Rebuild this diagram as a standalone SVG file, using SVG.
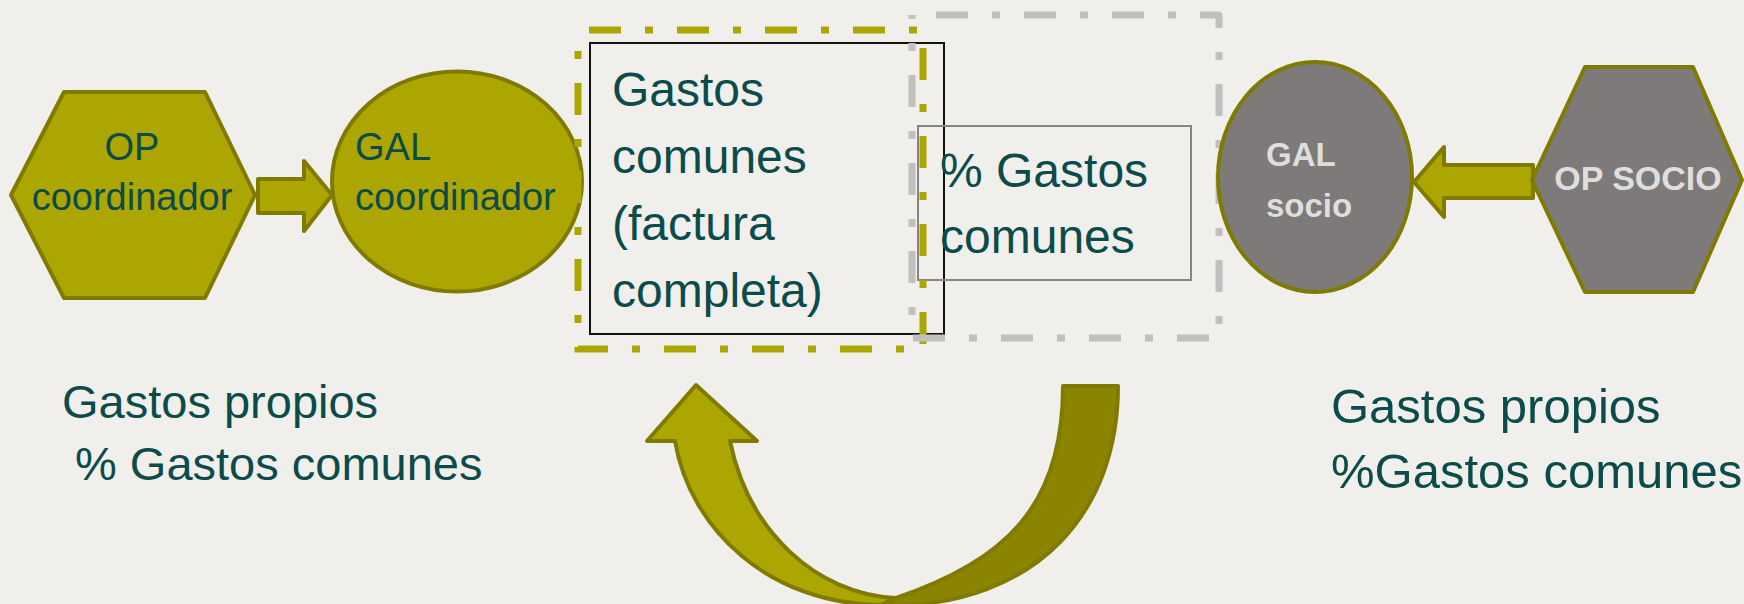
<svg xmlns="http://www.w3.org/2000/svg" width="1744" height="604" viewBox="0 0 1744 604">
<style>
.bg{fill:#f0efeb}
.olv{fill:#aca603;stroke:#807b00;stroke-width:4;stroke-linejoin:round}
.dark{fill:#8a8400;stroke:#807b00;stroke-width:4;stroke-linejoin:round}
.gry{fill:#7e7a7a;stroke:#807b00;stroke-width:4;stroke-linejoin:round}
.t{font-family:"Liberation Sans",Arial,sans-serif;fill:#0b4c4a}
.w{font-family:"Liberation Sans",Arial,sans-serif;fill:#dedede;font-weight:bold}
.dash{fill:none;stroke-width:7;stroke-dasharray:32 24 8 24}
</style>
<rect class="bg" x="0" y="0" width="1744" height="604"/>
<g id="connectors">
<path class="olv" d="M258,179 L304,179 L304,161 L332,195 L304,231 L304,213 L258,213 Z"/>
<path class="olv" d="M1533,165 L1444,165 L1444,147 L1414,182 L1444,217 L1444,198 L1533,198 Z"/>
<path class="dark" d="M1063,386 L1118,386 C1118,510 1040,606 885,606 L896,598 C1006,560 1063,506 1063,386 Z"/>
<path class="olv" d="M647,441 L696,385 L757,441 L730,441 C748,530 815,594 896,598 L880,605 C770,604 690,530 675,441 Z"/>
</g>
<g id="op-coordinador">
<polygon class="olv" points="11,195 64,92 205,92 255,195 205,298 64,298"/>
<text class="t" font-size="38" text-anchor="middle" x="132" y="160">OP</text>
<text class="t" font-size="38" text-anchor="middle" x="132" y="210">coordinador</text>
</g>
<g id="gal-coordinador">
<ellipse class="olv" cx="457" cy="181.5" rx="125" ry="110"/>
<text class="t" font-size="38" x="355" y="160">GAL</text>
<text class="t" font-size="38" x="355" y="210">coordinador</text>
</g>
<g id="gastos-comunes">
<rect x="590" y="43" width="354" height="291" fill="none" stroke="#111" stroke-width="2"/>
<text class="t" font-size="48" x="612" y="106">Gastos</text>
<text class="t" font-size="48" x="612" y="173">comunes</text>
<text class="t" font-size="48" x="612" y="240">(factura</text>
<text class="t" font-size="48" x="612" y="307">completa)</text>
</g>
<g id="pct-gastos-comunes">
<rect x="918" y="126" width="273" height="154" fill="none" stroke="#858585" stroke-width="2"/>
<text class="t" font-size="48" x="940" y="187">% Gastos</text>
<text class="t" font-size="48" x="940" y="253">comunes</text>
</g>
<g id="grupo-coordinador">
<path class="dash" stroke="#aca603" stroke-dashoffset="77" d="M578,30 L923,30 L923,349 L578,349 Z"/>
</g>
<g id="grupo-socio">
<path class="dash" stroke="#c1bfbf" stroke-dashoffset="64" stroke-linejoin="round" d="M912,15 L1219,15 L1219,338 L912,338 Z"/>
</g>
<g id="gal-socio">
<ellipse class="gry" cx="1315" cy="177" rx="97" ry="115"/>
<text class="w" font-size="33" x="1266" y="166">GAL</text>
<text class="w" font-size="33" x="1266" y="217">socio</text>
</g>
<g id="op-socio">
<polygon class="gry" points="1532,180 1585,67 1693,67 1742,180 1693,292 1585,292"/>
<text class="w" font-size="34" text-anchor="middle" x="1638" y="190">OP SOCIO</text>
</g>
<g id="label-coordinador">
<text class="t" font-size="47" x="62" y="418">Gastos propios</text>
<text class="t" font-size="47" x="75" y="480">% Gastos comunes</text>
</g>
<g id="label-socio">
<text class="t" font-size="49" x="1331" y="423">Gastos propios</text>
<text class="t" font-size="49" x="1331" y="488">%Gastos comunes</text>
</g>
</svg>
